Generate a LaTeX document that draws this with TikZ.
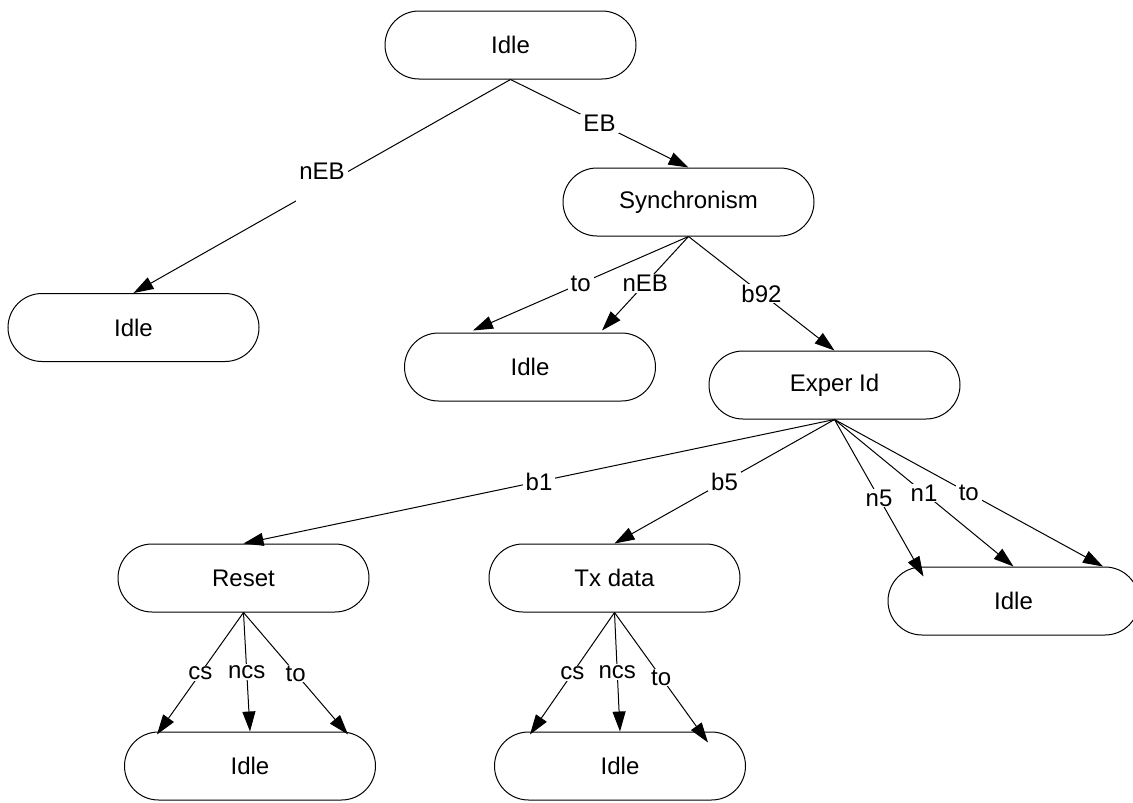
\documentclass[tikz,border=0pt]{standalone}
\usepackage{fontspec}
\setmainfont{Liberation Sans}
\usetikzlibrary{arrows.meta}
\begin{document}
\begin{tikzpicture}[x=1pt,y=-1pt,
  state/.style={draw, line width=1pt, rounded corners=34pt, minimum width=251pt, minimum height=68pt, inner sep=0pt, font=\fontsize{24}{28}\selectfont},
  arr/.style={line width=1pt, -{Triangle[length=20pt,width=13pt]}},
  lbl/.style={fill=white, inner xsep=3pt, inner ysep=1pt, midway, font=\fontsize{24}{28}\selectfont}]
\useasboundingbox (0,0) rectangle (1133,803);
% states
\node[state] (idle0) at (510.5,45) {Idle};
\node[state] (idleL) at (133.5,327.5) {Idle};
\node[state] (sync) at (688.5,202) {Synchronism};
\node[state] (idleM) at (530,367) {Idle};
\node[state] (exper) at (834.5,385) {Exper Id};
\node[state] (reset) at (243.5,578) {Reset};
\node[state] (tx) at (614.5,578) {Tx data};
\node[state] (idleR) at (1013.5,601) {Idle};
\node[state] (idleB1) at (250,766) {Idle};
\node[state] (idleB2) at (620,766) {Idle};
% transitions
\draw[arr] (idle0.south) -- node[lbl, text depth=22pt, yshift=4pt] (l1) {nEB} (idleL.north);
\draw[arr] (idle0.south) -- node[lbl] (l2) {EB} (sync.north);
\draw[arr] (sync.south) -- node[lbl] (l3) {to} ([xshift=-57pt,yshift=2pt]idleM.north);
\draw[arr] (sync.south) -- node[lbl] (l4) {nEB} ([xshift=72pt,yshift=2pt]idleM.north);
\draw[arr] (sync.south) -- node[lbl] (l5) {b92} (exper.north);
\draw[arr] (exper.south) -- node[lbl] (l6) {b1} (reset.north);
\draw[arr] (exper.south) -- node[lbl] (l7) {b5} (tx.north);
\draw[arr] (exper.south) -- node[lbl] (l8) {n5} ([xshift=-90pt,yshift=-10pt]idleR.north);
\draw[arr] (exper.south) -- node[lbl] (l9) {n1} (idleR.north);
\draw[arr] (exper.south) -- node[lbl] (l10) {to} ([xshift=89.5pt]idleR.north);
\draw[arr] (reset.south) -- node[lbl] (l11) {cs} ([xshift=-93pt,yshift=-3pt]idleB1.north);
\draw[arr] (reset.south) -- node[lbl] (l12) {ncs} (idleB1.north);
\draw[arr] (reset.south) -- node[lbl] (l13) {to} ([xshift=98pt,yshift=-3pt]idleB1.north);
\draw[arr] (tx.south) -- node[lbl] (l14) {cs} ([xshift=-90pt,yshift=-3pt]idleB2.north);
\draw[arr] (tx.south) -- node[lbl] (l15) {ncs} (idleB2.north);
\draw[arr] (tx.south) -- node[lbl] (l16) {to} ([xshift=88pt,yshift=-11pt]idleB2.north);
\end{tikzpicture}
\end{document}
